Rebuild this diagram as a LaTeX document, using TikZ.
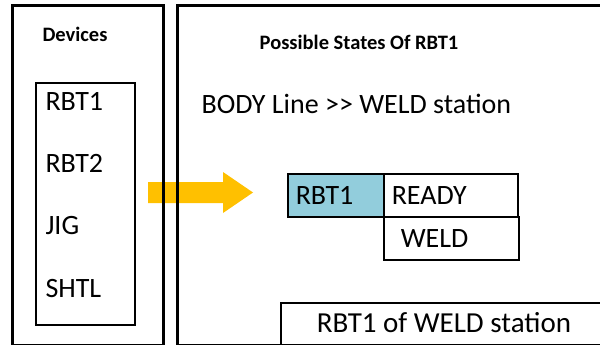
\documentclass[tikz,border=0pt]{standalone}
\usepackage{fontspec}
\setmainfont{Carlito}
\begin{document}
\begin{tikzpicture}[x=1pt,y=-1pt,
  frame/.style={draw=black,line width=3pt},
  cell/.style={draw=black,line width=1.5pt,minimum height=43pt,inner ysep=0pt,anchor=north west,align=left},
  big/.style={font=\fontsize{28}{30}\selectfont},
  head/.style={font=\bfseries\fontsize{20.5}{22}\selectfont}]
\useasboundingbox (0,0) rectangle (600,345);
% yellow block arrow between the two panels
\fill[fill={rgb,255:red,255;green,192;blue,0}]
  (148,182) -- (223,182) -- (223,172) -- (253,192.5) -- (223,213) -- (223,203) -- (148,203) -- cycle;
% panels
\draw[frame] (12,6) rectangle (163,345);
\draw[frame] (177,6) rectangle (603,345);
\node[head] (devh) at (75,34) {Devices};
\node[head] (stath) at (359,42) {Possible States Of RBT1};
% device list
\draw[line width=1.5pt] (36,83) rectangle (135,325);
\node[big,anchor=west] (d1) at (42,101) {RBT1};
\node[big,anchor=west] (d2) at (42,163) {RBT2};
\node[big,anchor=west] (d3) at (42,226) {JIG};
\node[big,anchor=west] (d4) at (42,289) {SHTL};
% station line
\node[big,anchor=west] (line) at (198,104) {BODY Line >{}> WELD station};
% state table
\node[cell,big,fill={rgb,255:red,146;green,205;blue,220},text width=80pt,inner xsep=8pt] (dev) at (287,173) {RBT1};
\node[cell,big,text width=118pt,inner xsep=8pt] (ready) at (383,173) {READY};
\node[cell,big,text width=101pt,inner xsep=17pt] (weld) at (383,216) {WELD};
% caption box
\draw[line width=2.5pt] (603,303) -- (281,303) -- (281,348);
\node[big,font=\fontsize{29}{31}\selectfont] (cap) at (444,323) {RBT1 of WELD station};
\end{tikzpicture}
\end{document}
